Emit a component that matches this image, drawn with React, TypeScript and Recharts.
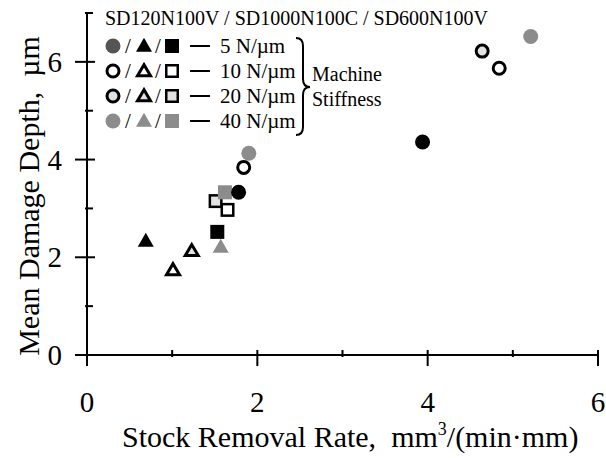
import React from 'react';
import { ScatterChart, Scatter, XAxis, YAxis, Legend } from 'recharts';

// values
const circle5 = [{ x: 1.78, y: 3.33 }, { x: 3.94, y: 4.36 }];
const circle10 = [{ x: 1.84, y: 3.84 }, { x: 4.84, y: 5.87 }];
const circle20 = [{ x: 4.64, y: 6.22 }];
const circle40 = [{ x: 1.9, y: 4.13 }, { x: 5.21, y: 6.52 }];
const triangle5 = [{ x: 0.69, y: 2.31 }];
const triangle10 = [{ x: 1.01, y: 1.72 }];
const triangle20 = [{ x: 1.23, y: 2.11 }];
const triangle40 = [{ x: 1.57, y: 2.19 }];
const square5 = [{ x: 1.53, y: 2.52 }];
const square10 = [{ x: 1.65, y: 2.97 }];
const square20 = [{ x: 1.51, y: 3.15 }];
const square40 = [{ x: 1.62, y: 3.33 }];

const xTicks = [0, 1, 2, 3, 4, 5, 6];
const yTicks = [0, 1, 2, 3, 4, 5, 6, 7];
const stiffness = ['5 N/\u00b5m', '10 N/\u00b5m', '20 N/\u00b5m', '40 N/\u00b5m'];

const FONT = '"Liberation Serif", "DejaVu Serif", serif';

type Kind = 'circle' | 'triangle' | 'square';

const fills: Record<number, string> = { 5: '#000', 10: '#fff', 20: '#e2e2e2', 40: '#8c8c8c' };

const Marker = ({ cx, cy, kind, level, legend }: any) => {
  const open = level === 10 || level === 20;
  let fill = fills[level];
  if (legend && kind === 'circle' && level === 5) fill = '#555';
  const stroke = open ? '#000' : 'none';
  if (kind === 'circle') {
    return <circle cx={cx} cy={cy} r={open ? 6 : 7.5} fill={fill} stroke={stroke} strokeWidth={3} />;
  }
  if (kind === 'triangle') {
    const w = open ? 13 : 16;
    const h = open ? 11 : 14;
    const pts = `${cx},${cy - (2 * h) / 3} ${cx - w / 2},${cy + h / 3} ${cx + w / 2},${cy + h / 3}`;
    return <polygon points={pts} fill={fill} stroke={stroke} strokeWidth={3} strokeLinejoin="miter" />;
  }
  const s = open ? 11.5 : 14;
  return <rect x={cx - s / 2} y={cy - s / 2} width={s} height={s} fill={fill} stroke={stroke} strokeWidth={2.5} />;
};

const shapeOf = (kind: Kind, level: number) => (p: any) => <Marker cx={p.cx} cy={p.cy} kind={kind} level={level} />;

const XTick = ({ x, y, payload }: any) => {
  const major = payload.value % 2 === 0;
  return (
    <g>
      <line x1={x} x2={x} y1={y - 7} y2={major ? y + 9 : y} stroke="#000" strokeWidth={2} />
      {major && (
        <text x={x} y={y + 55} textAnchor="middle" fontSize={29} fontFamily={FONT} fill="#000">
          {payload.value}
        </text>
      )}
    </g>
  );
};

const YTick = ({ x, y, payload }: any) => {
  const major = payload.value % 2 === 0;
  return (
    <g>
      <line x1={major ? x - 10 : x} x2={major ? x + 10 : x + 8} y1={y} y2={y} stroke="#000" strokeWidth={2} />
      {major && (
        <text x={x - 23} y={y + 10} textAnchor="end" fontSize={29} fontFamily={FONT} fill="#000">
          {payload.value}
        </text>
      )}
    </g>
  );
};

const XTitle = () => (
  <text x={122} y={447} fontSize={30} fontFamily={FONT} fill="#000">
    Stock Removal Rate,{'\u00a0 '}mm
    <tspan dy={-12} fontSize={18}>3</tspan>
    <tspan dy={12}>/(min·mm)</tspan>
  </text>
);

const YTitle = () => (
  <text
    x={39}
    y={196}
    transform="rotate(-90 39 196)"
    textAnchor="middle"
    fontSize={30}
    fontFamily={FONT}
    fill="#000"
  >
    Mean Damage Depth,{'\u00a0 '}µm
  </text>
);

const levels = [5, 10, 20, 40];

const LegendBox = () => (
  <svg width={606} height={140} style={{ display: 'block' }}>
    <text x={105} y={25} fontSize={20} fontFamily={FONT} fill="#000">
      SD120N100V / SD1000N100C / SD600N100V
    </text>
    {levels.map((lv, i) => {
      const cy = 46 + i * 25;
      return (
        <g key={lv}>
          <Marker cx={113} cy={cy} kind="circle" level={lv} legend />
          <text x={128} y={cy + 7} textAnchor="middle" fontSize={21} fontFamily={FONT}>/</text>
          <Marker cx={144} cy={cy + 1} kind="triangle" level={lv} legend />
          <text x={158} y={cy + 7} textAnchor="middle" fontSize={21} fontFamily={FONT}>/</text>
          <Marker cx={172} cy={cy} kind="square" level={lv} legend />
          <line x1={190} x2={210} y1={cy} y2={cy} stroke="#000" strokeWidth={2} />
          <text x={220} y={cy + 7} fontSize={21} fontFamily={FONT}>{stiffness[i]}</text>
        </g>
      );
    })}
    <path
      d="M 296 38 Q 303 38 303 46 L 303 79 Q 303 87 310 87 Q 303 87 303 95 L 303 127 Q 303 135 296 135"
      fill="none"
      stroke="#000"
      strokeWidth={2}
    />
    <text x={312} y={81} fontSize={20} fontFamily={FONT}>Machine</text>
    <text x={312} y={106} fontSize={20} fontFamily={FONT}>Stiffness</text>
  </svg>
);

export default function App() {
  return (
    <div style={{ position: 'absolute', left: 0, top: 0, background: '#fff' }}>
      <ScatterChart width={606} height={458} margin={{ top: 13, right: 8, left: 0, bottom: 0 }}>
        <XAxis
          type="number"
          dataKey="x"
          domain={[0, 6]}
          ticks={xTicks}
          interval={0}
          height={103}
          tickSize={0}
          tickLine={false}
          tick={XTick}
          axisLine={{ stroke: '#000', strokeWidth: 2 }}
          label={<XTitle />}
        />
        <YAxis
          type="number"
          dataKey="y"
          domain={[0, 7]}
          ticks={yTicks}
          interval={0}
          width={87}
          tickSize={0}
          tickLine={false}
          tick={YTick}
          axisLine={{ stroke: '#000', strokeWidth: 2 }}
          label={<YTitle />}
        />
        <Legend
          layout="horizontal"
          verticalAlign="middle"
          align="center"
          content={<LegendBox />}
          wrapperStyle={{ left: 0, top: 0, width: 606, height: 140 }}
        />
        <Scatter data={square10} shape={shapeOf('square', 10)} isAnimationActive={false} />
        <Scatter data={square20} shape={shapeOf('square', 20)} isAnimationActive={false} />
        <Scatter data={square40} shape={shapeOf('square', 40)} isAnimationActive={false} />
        <Scatter data={square5} shape={shapeOf('square', 5)} isAnimationActive={false} />
        <Scatter data={triangle5} shape={shapeOf('triangle', 5)} isAnimationActive={false} />
        <Scatter data={triangle10} shape={shapeOf('triangle', 10)} isAnimationActive={false} />
        <Scatter data={triangle20} shape={shapeOf('triangle', 20)} isAnimationActive={false} />
        <Scatter data={triangle40} shape={shapeOf('triangle', 40)} isAnimationActive={false} />
        <Scatter data={circle40} shape={shapeOf('circle', 40)} isAnimationActive={false} />
        <Scatter data={circle5} shape={shapeOf('circle', 5)} isAnimationActive={false} />
        <Scatter data={circle10} shape={shapeOf('circle', 10)} isAnimationActive={false} />
        <Scatter data={circle20} shape={shapeOf('circle', 20)} isAnimationActive={false} />
      </ScatterChart>
    </div>
  );
}
